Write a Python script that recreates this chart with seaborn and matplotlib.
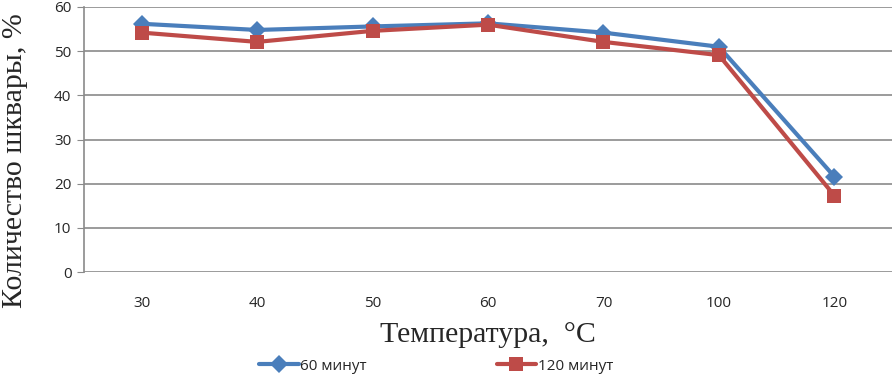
import pandas as pd
import seaborn as sns
import matplotlib as mpl
import matplotlib.pyplot as plt

sns.set_style("white")
mpl.rcParams["font.family"] = ["Open Sans", "DejaVu Sans"]

temps = ["30", "40", "50", "60", "70", "100", "120"]
min60 = [56.2, 54.8, 55.6, 56.3, 54.2, 51.0, 21.6]
min120 = [54.2, 52.1, 54.6, 56.0, 52.1, 49.1, 17.3]

df = pd.concat([
    pd.DataFrame({"temp": temps, "val": min60, "series": "60 минут"}),
    pd.DataFrame({"temp": temps, "val": min120, "series": "120 минут"}),
])

fig = plt.figure(figsize=(8.93, 3.77), dpi=100)
ax = fig.add_axes([84 / 893, 105 / 377, 1 - 84 / 893 - 0.001, 265 / 377])

palette = {"60 минут": "#4A7EBB", "120 минут": "#BE4B48"}
sns.lineplot(ax=ax, data=df, x="temp", y="val", hue="series", style="series",
             markers={"60 минут": "D", "120 минут": "s"}, dashes=False,
             palette=palette, linewidth=3, markersize=9.5, sort=False,
             markeredgewidth=0)

ax.set_ylim(0, 60)
ax.set_yticks(range(0, 61, 10))
ax.set_xlim(-0.5, 6.5)
ax.yaxis.grid(True, color="#8a8a8a", linewidth=1.2)
for s in ["top", "right", "bottom"]:
    ax.spines[s].set_visible(False)
ax.spines["left"].set_color("#8a8a8a")
ax.spines["left"].set_linewidth(1.2)
ax.tick_params(axis="y", left=True, length=5, color="#8a8a8a", labelsize=11, pad=4)
ax.tick_params(axis="x", bottom=False, labelsize=11, pad=14)

serif = ["Liberation Serif", "DejaVu Serif"]
ax.set_xlabel("Температура,  °С", family=serif, fontsize=21.5, labelpad=8)
ax.set_ylabel("Количество шквары, %", family=serif, fontsize=21.5)
ax.yaxis.set_label_coords(-0.069, 0.42)

ax.get_legend().remove()
handles, labels = ax.get_legend_handles_labels()
leg = fig.legend(handles, labels, loc="center", bbox_to_anchor=(436 / 893, 11 / 377),
                 ncol=2, frameon=False, fontsize=11, handlelength=2.6,
                 handletextpad=0.1, columnspacing=8.5)
for h in leg.legend_handles:
    h.set_linewidth(3)

fig.savefig("out.png", dpi=100)
